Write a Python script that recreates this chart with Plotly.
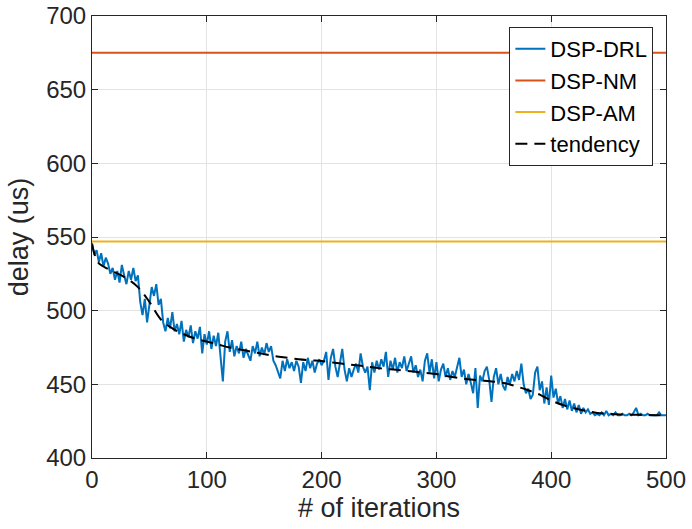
import plotly.graph_objects as go

# DSP-DRL delay, every 2 iterations (0..500)
drl_iter = list(range(0, 501, 2))
drl_delay = [
    546, 538, 541, 533, 539, 530, 536, 532, 525, 529,
    521, 527, 519, 531, 524, 518, 527, 521, 529, 520,
    524, 506, 497, 508, 492, 503, 516, 510, 518, 504,
    508, 492, 486, 495, 488, 499, 486, 491, 484, 493,
    479, 487, 482, 490, 478, 486, 481, 489, 471, 484,
    477, 486, 474, 483, 476, 485, 466, 452, 479, 486,
    472, 480, 469, 476, 471, 479, 468, 474, 470, 466,
    476, 471, 479, 469, 475, 470, 478, 472, 476, 466,
    463, 458, 454, 466, 459, 467, 461, 465, 459, 466,
    462, 451, 465, 459, 468, 461, 466, 458, 464, 467,
    463, 466, 472, 453, 468, 474, 462, 455, 466, 474,
    460, 452, 461, 455, 460, 464, 458, 471, 462, 458,
    462, 446, 465, 458, 466, 460, 467, 462, 472, 455,
    466, 460, 468, 458, 465, 461, 469, 459, 464, 469,
    458, 463, 455, 460, 452, 466, 471, 458, 467, 454,
    465, 452, 460, 464, 455, 461, 453, 459, 455, 462,
    468, 455, 460, 450, 457, 451, 444, 461, 434, 456,
    452, 459, 462, 453, 438, 455, 461, 450, 457, 449,
    446, 455, 450, 457, 452, 459, 453, 464, 450, 444,
    447, 440, 443, 458, 462, 446, 452, 437, 448, 436,
    456, 441, 447, 437, 442, 434, 440, 433, 439, 432,
    437, 431, 436, 430, 434, 431, 433, 430, 431, 429,
    430, 429, 431, 429, 432, 429, 430, 429, 431, 429,
    429, 430, 429, 429, 430, 429, 431, 434, 429, 430,
    429, 429, 430, 429, 429, 429, 429, 431, 429, 429,
    429,
]

# tendency curve
tend_iter = [0, 5, 10, 20, 30, 40, 50, 60, 70, 80, 90, 100, 110, 120, 130, 140,
             150, 160, 170, 180, 190, 200, 210, 220, 230, 240, 250, 260, 270,
             280, 290, 300, 310, 320, 330, 340, 350, 360, 370, 380, 390, 400,
             410, 420, 430, 440, 450, 460, 470, 480, 490, 500]
tend_delay = [545, 533, 530, 526, 522, 516, 506, 494, 488, 484, 481, 479, 477,
              475, 473.5, 472, 470.5, 469, 468, 467, 466.3, 465.8, 464.8, 463.8,
              463, 462, 461, 460.2, 459.5, 458.7, 457.8, 457, 455.5, 454.3,
              453.3, 452.6, 451.8, 450.7, 448.5, 446, 443, 439, 436, 433.8,
              432, 430.6, 430, 429.6, 429.4, 429.2, 429.1, 429]

nm_delay = 675
am_delay = 547
x_range = [0, 500]

FONT = "Liberation Sans, Arial, sans-serif"

fig = go.Figure()
fig.add_trace(go.Scatter(x=drl_iter, y=drl_delay, mode="lines", name="DSP-DRL",
                         line=dict(color="#0072BD", width=2)))
fig.add_trace(go.Scatter(x=x_range, y=[nm_delay, nm_delay], mode="lines", name="DSP-NM",
                         line=dict(color="#D95319", width=2)))
fig.add_trace(go.Scatter(x=x_range, y=[am_delay, am_delay], mode="lines", name="DSP-AM",
                         line=dict(color="#EDB120", width=2)))
fig.add_trace(go.Scatter(x=tend_iter, y=tend_delay, mode="lines", name="tendency",
                         line=dict(color="black", width=2, dash="12px,7px", shape="spline")))

axis_common = dict(showgrid=True, gridcolor="#e3e3e3", gridwidth=1, automargin=False,
                   showline=True, linecolor="#262626", linewidth=1, mirror="ticks",
                   ticks="inside", ticklen=6, tickcolor="#262626", zeroline=False,
                   tickfont=dict(family=FONT, size=24, color="#262626"))

fig.update_layout(
    width=692, height=529,
    margin=dict(l=92, r=26, t=16, b=71),
    plot_bgcolor="white", paper_bgcolor="white",
    font=dict(family=FONT, color="#262626"),
    xaxis=dict(range=[0, 500], dtick=100,
               title=dict(text="# of iterations", font=dict(size=27), standoff=4),
               **axis_common),
    yaxis=dict(range=[400, 700], dtick=50,
               title=dict(text="delay (us)", font=dict(size=27), standoff=9),
               **axis_common),
    legend=dict(x=0.978, y=0.975, xanchor="right", yanchor="top",
                bgcolor="white", bordercolor="#262626", borderwidth=1,
                font=dict(size=22, color="black"), tracegroupgap=0),
    showlegend=True,
)

fig.write_html("out.html", config={"displayModeBar": False},
               post_script="document.body.style.margin='0';")
